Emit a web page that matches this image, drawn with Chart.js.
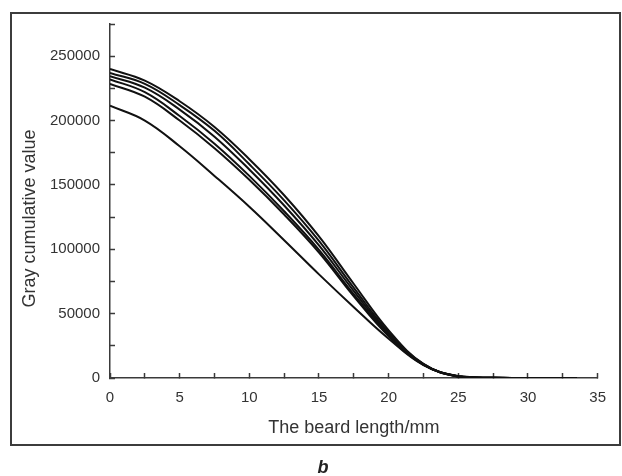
<!DOCTYPE html>
<html lang="en">
<head>
    <meta charset="UTF-8">
    <title>Gray cumulative value</title>
    <script src="https://cdn.jsdelivr.net/npm/chart.js"></script>
    <style>
        body {
            margin: 0;
            background: #ffffff;
            font-family: "Liberation Sans", Arial, sans-serif;
        }

        #frame {
            position: absolute;
            left: 10px;
            top: 12px;
            width: 611px;
            height: 434px;
            box-sizing: border-box;
            border: 2px solid #3c3c3c;
        }

        #chartBox {
            position: absolute;
            left: 0;
            top: 0;
        }

        #caption {
            position: absolute;
            left: 0;
            top: 456px;
            width: 646px;
            text-align: center;
            font-size: 18px;
            line-height: 22px;
            font-weight: bold;
            font-style: italic;
            color: #222;
        }
    </style>
</head>
<body>
    <div id="frame"></div>
    <div id="chartBox">
        <canvas id="grayChart" width="622" height="476"></canvas>
    </div>
    <div id="caption">b</div>

    <script>
        // beard length (mm) where the curves were read
        const lengths = [0, 2.5, 5, 7.5, 10, 12.5, 15, 17.5, 20, 22.5, 25, 27.5, 30, 33.5];

        // gray cumulative value, one array per curve (top to bottom at x = 0)
        const curve1 = [240000, 231000, 215000, 195000, 170000, 142000, 110000, 73000, 37000, 11000, 1300, 150, 0, 0];
        const curve2 = [237000, 228500, 212000, 192000, 166000, 138000, 106500, 70000, 35500, 10800, 1200, 150, 0, 0];
        const curve3 = [234500, 225500, 208500, 187500, 162000, 134000, 103000, 67500, 34500, 10600, 1100, 120, 0, 0];
        const curve4 = [232000, 222000, 203500, 182000, 157000, 129500, 99500, 65000, 33500, 10400, 1100, 120, 0, 0];
        const curve5 = [228500, 218500, 200000, 178500, 154000, 127000, 97500, 63500, 32500, 10200, 1000, 100, 0, 0];
        const curve6 = [211500, 200000, 180000, 157000, 133000, 107000, 80500, 55000, 30500, 10000, 1500, 150, 0, 0];

        const allCurves = [curve1, curve2, curve3, curve4, curve5, curve6];

        const xTickLabels = ['0', '5', '10', '15', '20', '25', '30', '35'];
        const yTickLabels = ['0', '50000', '100000', '150000', '200000', '250000'];

        const fontFamily = '"Liberation Sans", Arial, sans-serif';
        const axisColor = '#3a3a3a';
        const textColor = '#333333';

        const datasets = allCurves.map(function(values, i) {
            return {
                label: 'curve ' + (i + 1),
                data: lengths.map((x, j) => ({ x: x, y: values[j] })),
                borderColor: '#111111',
                borderWidth: 2,
                pointRadius: 0,
                fill: false,
                tension: 0.4
            };
        });

        const ctx = document.getElementById('grayChart').getContext('2d');
        new Chart(ctx, {
            type: 'line',
            data: { datasets: datasets },
            options: {
                responsive: false,
                animation: false,
                layout: {
                    padding: { left: 10, top: 20, right: 15, bottom: 0 }
                },
                plugins: {
                    legend: { display: false },
                    tooltip: { enabled: false }
                },
                scales: {
                    x: {
                        type: 'linear',
                        min: 0,
                        max: 35,
                        afterFit: function(scale) { scale.height = 98; },
                        border: { display: true, color: axisColor, width: 1.5 },
                        grid: {
                            drawOnChartArea: false,
                            drawTicks: true,
                            tickLength: -5,
                            tickColor: axisColor,
                            tickWidth: 1.5
                        },
                        ticks: {
                            stepSize: 2.5,
                            autoSkip: false,
                            maxRotation: 0,
                            padding: 16,
                            color: textColor,
                            font: { family: fontFamily, size: 15 },
                            callback: function(value) {
                                const s = String(value);
                                return xTickLabels.includes(s) ? s : '';
                            }
                        },
                        title: {
                            display: true,
                            text: 'The beard length/mm',
                            color: textColor,
                            font: { family: fontFamily, size: 18 },
                            padding: { top: 0, bottom: 37 }
                        }
                    },
                    y: {
                        type: 'linear',
                        min: 0,
                        max: 275000,
                        afterFit: function(scale) { scale.width = 100; },
                        border: { display: true, color: axisColor, width: 1.5 },
                        grid: {
                            drawOnChartArea: false,
                            drawTicks: true,
                            tickLength: -5,
                            tickColor: axisColor,
                            tickWidth: 1.5
                        },
                        ticks: {
                            stepSize: 25000,
                            autoSkip: false,
                            padding: 15,
                            color: textColor,
                            font: { family: fontFamily, size: 15 },
                            callback: function(value) {
                                const s = String(value);
                                return yTickLabels.includes(s) ? s : '';
                            }
                        },
                        title: {
                            display: true,
                            text: 'Gray cumulative value\u00a0\u00a0\u00a0\u00a0\u00a0\u00a0\u00a0',
                            color: textColor,
                            font: { family: fontFamily, size: 18 },
                            padding: { top: 9, bottom: 0 }
                        }
                    }
                }
            }
        });
    </script>
</body>
</html>
